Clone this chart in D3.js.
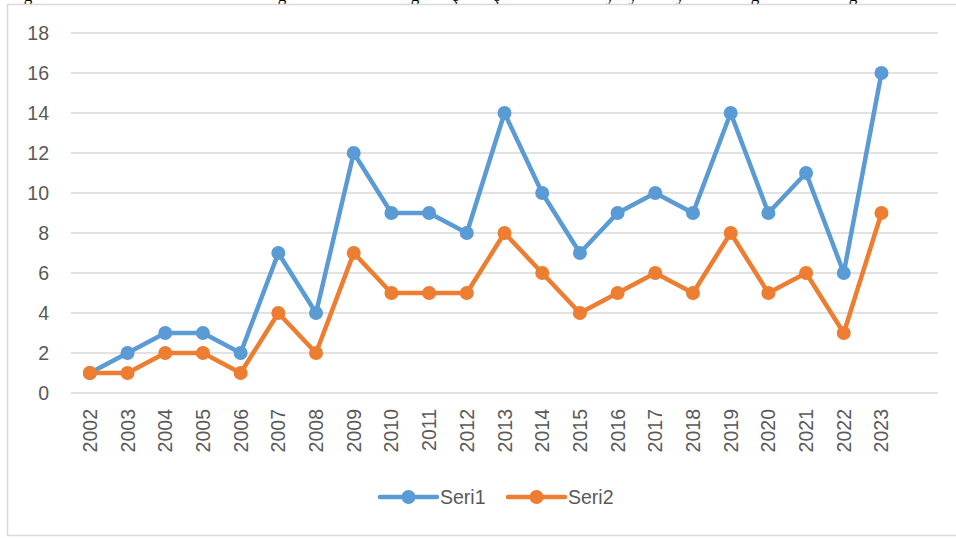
<!DOCTYPE html>
<html><head><meta charset="utf-8">
<script src="https://cdn.jsdelivr.net/npm/d3@7"></script>
<style>body{margin:0;background:#fff;}svg{display:block;}</style>
</head><body>
<svg id="c" width="956" height="538"></svg>
<script>
const years = ["2002","2003","2004","2005","2006","2007","2008","2009","2010","2011","2012","2013","2014","2015","2016","2017","2018","2019","2020","2021","2022","2023"];
const seri1 = [1,2,3,3,2,7,4,12,9,9,8,14,10,7,9,10,9,14,9,11,6,16];
const seri2 = [1,1,2,2,1,4,2,7,5,5,5,8,6,4,5,6,5,8,5,6,3,9];
const yTicks = [0,2,4,6,8,10,12,14,16,18];
const seriesNames = ["Seri1","Seri2"];
const colors = ["#5B9BD5","#ED7D31"];
// partially visible caption glyph descenders above the chart
const captionChars = [["g",28],["g",282],["g",415],["ç",455],["ş",497],["y",610],["y",633],["y",680],["g",755],["g",853]];

const svg = d3.select("#c");
const font = "Liberation Sans, Arial, sans-serif";

// caption fragments (clipped at top)
svg.append("g").selectAll("text").data(captionChars).join("text")
  .attr("x", d=>d[1]).attr("y", 0.5).attr("text-anchor","middle")
  .attr("font-family","Liberation Serif, serif").attr("font-size",17).attr("fill","#000")
  .text(d=>d[0]);

// frame
svg.append("rect").attr("x",7.5).attr("y",4.5).attr("width",960).attr("height",531)
  .attr("fill","none").attr("stroke","#d9d9d9").attr("stroke-width",1.5);

const slots = years.concat([""]);
const x = d3.scaleBand().domain(d3.range(slots.length)).range([71,938]);
const cx = i => x(i) + x.bandwidth()/2;
const y = d3.scaleLinear().domain([0,18]).range([393,33]);

// gridlines
svg.append("g").selectAll("line").data(yTicks).join("line")
  .attr("x1",71).attr("x2",938).attr("y1",d=>y(d)).attr("y2",d=>y(d))
  .attr("stroke","#d9d9d9").attr("stroke-width",1.5);

// y labels
svg.append("g").selectAll("text").data(yTicks).join("text")
  .attr("x",49).attr("y",d=>y(d)).attr("dy","0.36em").attr("text-anchor","end")
  .attr("font-family",font).attr("font-size",19.5).attr("fill","#595959").text(d=>d);

// x labels
svg.append("g").selectAll("text").data(years).join("text")
  .attr("transform",(d,i)=>`translate(${cx(i)+7},409) rotate(-90)`)
  .attr("text-anchor","end").attr("font-family",font).attr("font-size",19.5).attr("fill","#595959").text(d=>d);

const line = d3.line().x((d,i)=>cx(i)).y(d=>y(d));
[seri1,seri2].forEach((s,k)=>{
  const g = svg.append("g");
  g.append("path").datum(s).attr("d",line).attr("fill","none")
    .attr("stroke",colors[k]).attr("stroke-width",4.5).attr("stroke-linejoin","round").attr("stroke-linecap","round");
  g.selectAll("circle").data(s).join("circle")
    .attr("cx",(d,i)=>cx(i)).attr("cy",d=>y(d)).attr("r",7).attr("fill",colors[k]);
});

// legend
const leg = svg.append("g");
const legX = [380,508];
seriesNames.forEach((n,k)=>{
  const gx = legX[k], gy = 497;
  leg.append("line").attr("x1",gx).attr("x2",gx+57).attr("y1",gy).attr("y2",gy)
    .attr("stroke",colors[k]).attr("stroke-width",4.5).attr("stroke-linecap","round");
  leg.append("circle").attr("cx",gx+28.5).attr("cy",gy).attr("r",7).attr("fill",colors[k]);
  leg.append("text").attr("x",gx+60).attr("y",gy).attr("dy","0.36em")
    .attr("font-family",font).attr("font-size",19.5).attr("fill","#595959").text(n);
});
</script>
</body></html>
